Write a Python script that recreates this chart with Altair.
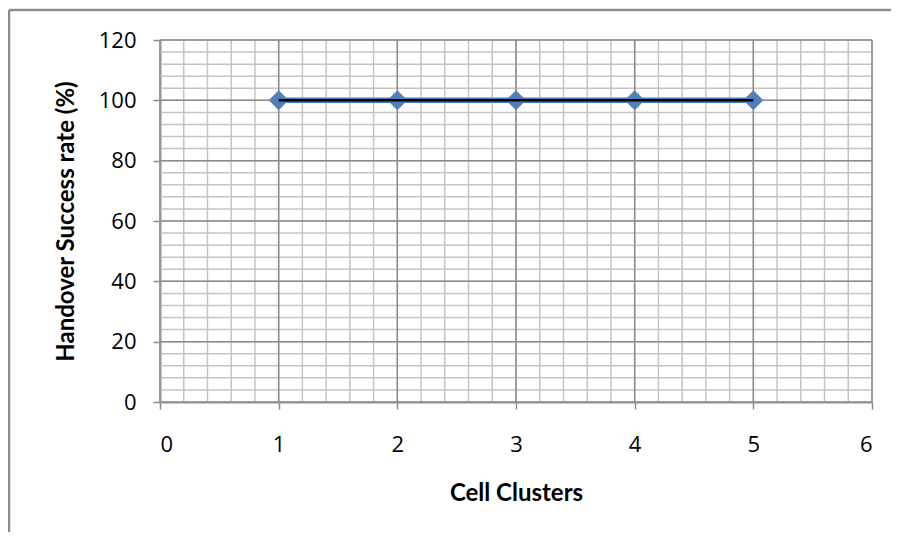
import altair as alt
import pandas as pd

# Data
clusters = [1, 2, 3, 4, 5]
success_rate = [100, 100, 100, 100, 100]

x_major = [0, 1, 2, 3, 4, 5, 6]
y_major = [0, 20, 40, 60, 80, 100, 120]
x_minor = [round(i * 0.2, 1) for i in range(31)]
y_minor = list(range(0, 121, 4))

df = pd.DataFrame({"x": clusters, "y": success_rate})
xs = alt.Scale(domain=[0, 6], nice=False, zero=False)
ys = alt.Scale(domain=[0, 120], nice=False)

FONT = "Open Sans"
TFONT = "Lato"
W, H = 712, 362

x_axis = alt.Axis(
    values=x_major, format="d", title="Cell Clusters", grid=False,
    labelFontSize=22, labelFont=FONT, labelColor="#000",
    labelPadding=25, titleFont=TFONT, titleFontSize=24,
    titleFontWeight="bold", titleColor="#000", titlePadding=26,
    domainColor="#8c8c8c", domainWidth=2, tickColor="#8c8c8c",
    tickSize=7, tickWidth=1.5,
)
y_axis = alt.Axis(
    values=y_major, format="d", title="Handover Success rate (%)",
    grid=False, labelFontSize=22, labelFont=FONT, labelColor="#000",
    labelPadding=17, titleFont=TFONT, titleFontSize=24,
    titleFontWeight="bold", titleColor="#000", titlePadding=20,
    domainColor="#8c8c8c", domainWidth=2, tickColor="#8c8c8c",
    tickSize=7, tickWidth=1.5,
)

minor_v = alt.Chart(pd.DataFrame({"v": x_minor})).mark_rule(
    color="#c4c4c4", strokeWidth=1.5
).encode(x=alt.X("v:Q", scale=xs, axis=x_axis))
minor_h = alt.Chart(pd.DataFrame({"v": y_minor})).mark_rule(
    color="#c4c4c4", strokeWidth=1.5
).encode(y=alt.Y("v:Q", scale=ys, axis=y_axis))
major_v = alt.Chart(pd.DataFrame({"v": x_major})).mark_rule(
    color="#8c8c8c", strokeWidth=1.5
).encode(x=alt.X("v:Q", scale=xs, axis=x_axis))
major_h = alt.Chart(pd.DataFrame({"v": y_major})).mark_rule(
    color="#8c8c8c", strokeWidth=1.5
).encode(y=alt.Y("v:Q", scale=ys, axis=y_axis))

base = alt.Chart(df).encode(
    x=alt.X("x:Q", scale=xs, axis=x_axis),
    y=alt.Y("y:Q", scale=ys, axis=y_axis),
)

points = base.mark_point(
    shape="diamond", filled=True, size=400, color="#4f81bd", opacity=1
)
blue_line = base.mark_line(color="#4a7ebb", strokeWidth=5.5)
black_line = base.mark_line(color="#000000", strokeWidth=2.5)

# outer chart frame (decoration)
frame_left = alt.Chart(pd.DataFrame({"a": [0]})).mark_rule(
    color="#8c8c8c", strokeWidth=2.5, clip=False
).encode(x=alt.value(-151), y=alt.value(-30), y2=alt.value(600))
frame_top = alt.Chart(pd.DataFrame({"a": [0]})).mark_rule(
    color="#8c8c8c", strokeWidth=2.5, clip=False
).encode(x=alt.value(-151), x2=alt.value(800), y=alt.value(-30))

chart = alt.layer(
    minor_v, minor_h, major_v, major_h, points, blue_line, black_line,
    frame_left, frame_top
).properties(
    width=W, height=H,
    autosize=alt.AutoSizeParams(type="none"),
    padding={"left": 152, "top": 32, "right": 19, "bottom": 130},
).configure_view(stroke=None).configure(background="white")

chart.save("out.html", embed_options={"renderer": "svg", "actions": False})
